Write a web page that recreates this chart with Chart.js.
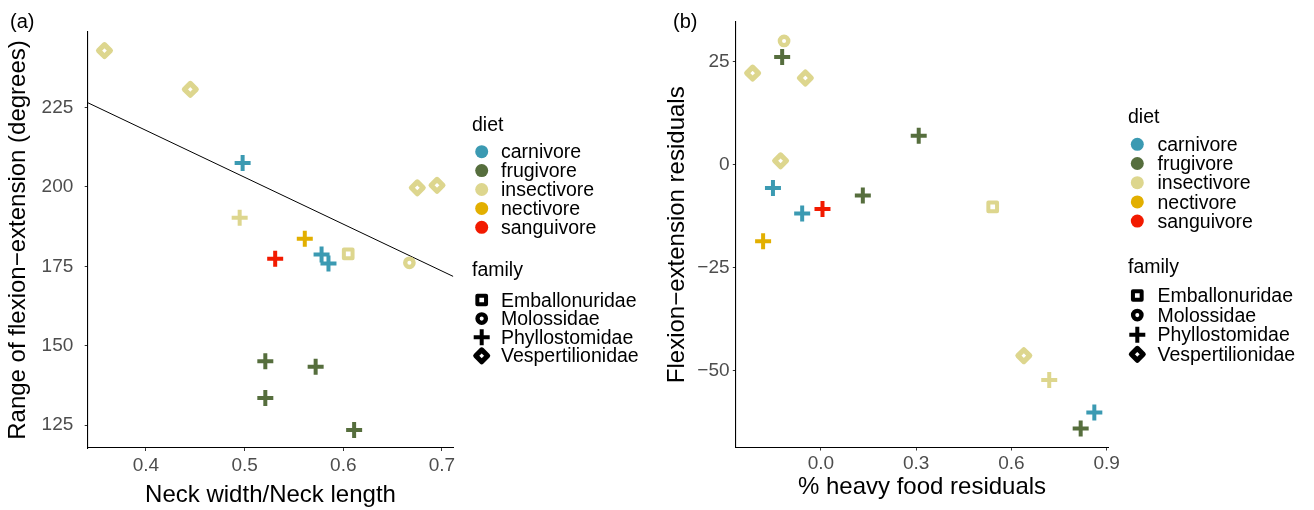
<!DOCTYPE html>
<html>
<head>
<meta charset="utf-8">
<script src="https://cdn.jsdelivr.net/npm/chart.js@4.4.0/dist/chart.umd.min.js"></script>
<style>
body { margin: 0; background: #fff; }
.panel { position: absolute; top: 0; width: 657px; height: 510px; }
</style>
</head>
<body>
<div class="panel" style="left:0"><canvas id="chartA" width="657" height="510"></canvas></div>
<div class="panel" style="left:657px"><canvas id="chartB" width="657" height="510"></canvas></div>
<script>
var dietNames = ['carnivore', 'frugivore', 'insectivore', 'nectivore', 'sanguivore'];
var familyNames = ['Emballonuridae', 'Molossidae', 'Phyllostomidae', 'Vespertilionidae'];

// panel (a)
var neckRatio = [0.358, 0.445, 0.498, 0.675, 0.695, 0.495, 0.561, 0.531, 0.578, 0.585, 0.605, 0.667, 0.521, 0.572, 0.521, 0.611];
var flexRange = [242.9, 230.7, 207.5, 199.7, 200.5, 190.3, 183.7, 177.4, 178.7, 175.9, 178.9, 176.1, 145.1, 143.4, 133.5, 123.5];
var dietA = ['insectivore', 'insectivore', 'carnivore', 'insectivore', 'insectivore', 'insectivore', 'nectivore', 'sanguivore',
             'carnivore', 'carnivore', 'insectivore', 'insectivore', 'frugivore', 'frugivore', 'frugivore', 'frugivore'];
var familyA = ['Vespertilionidae', 'Vespertilionidae', 'Phyllostomidae', 'Vespertilionidae', 'Vespertilionidae', 'Phyllostomidae',
               'Phyllostomidae', 'Phyllostomidae', 'Phyllostomidae', 'Phyllostomidae', 'Emballonuridae', 'Molossidae',
               'Phyllostomidae', 'Phyllostomidae', 'Phyllostomidae', 'Phyllostomidae'];
var fitX = [0.341, 0.7115];
var fitY = [226.5, 171.8];
var ticksAX = [0.4, 0.5, 0.6, 0.7];
var ticksAY = [125, 150, 175, 200, 225];

// panel (b)
var heavyResid = [-0.116, -0.122, -0.215, -0.049, 0.308, -0.127, -0.151, -0.059, 0.005, 0.132, -0.182, 0.541, 0.639, 0.719, 0.861, 0.818];
var flexResid = [30.0, 26.1, 22.2, 21.0, 7.0, 0.9, -5.7, -11.9, -10.8, -7.5, -18.6, -10.3, -46.4, -52.3, -60.2, -64.1];
var dietB = ['insectivore', 'frugivore', 'insectivore', 'insectivore', 'frugivore', 'insectivore', 'carnivore', 'carnivore',
             'sanguivore', 'frugivore', 'nectivore', 'insectivore', 'insectivore', 'insectivore', 'carnivore', 'frugivore'];
var familyB = ['Molossidae', 'Phyllostomidae', 'Vespertilionidae', 'Vespertilionidae', 'Phyllostomidae', 'Vespertilionidae',
               'Phyllostomidae', 'Phyllostomidae', 'Phyllostomidae', 'Phyllostomidae', 'Phyllostomidae', 'Emballonuridae',
               'Vespertilionidae', 'Phyllostomidae', 'Phyllostomidae', 'Phyllostomidae'];
var ticksBX = [0.0, 0.3, 0.6, 0.9];
var ticksBY = [-50, -25, 0, 25];

var dietColors = {carnivore: '#3B9AB2', frugivore: '#566E3D', insectivore: '#DDD68E', nectivore: '#E2AF00', sanguivore: '#F21A00'};
var familyShape = {Emballonuridae: 'rect', Molossidae: 'circle', Phyllostomidae: 'cross', Vespertilionidae: 'rectRot'};
var familyRadius = {Emballonuridae: 6.15, Molossidae: 4.2, Phyllostomidae: 8, Vespertilionidae: 5.95};
var familyStroke = {Emballonuridae: 4, Molossidae: 4.35, Phyllostomidae: 4, Vespertilionidae: 5.1};

var FONT = '"Liberation Sans", Arial, sans-serif';

function minusLabel(v) {
    return (v < 0 ? '\u2212' : '') + Math.abs(v);
}

var decorPlugin = {
    id: 'decor',
    beforeDatasetsDraw: function(chart) {
        // rounded joins like the R point shapes
        chart.ctx.lineJoin = 'round';
    },
    afterDraw: function(chart, args, o) {
        var ctx = chart.ctx;
        ctx.save();
        ctx.fillStyle = '#000';
        ctx.textBaseline = 'middle';
        ctx.font = '20px ' + FONT;
        ctx.fillText(o.tag, o.tagX, o.tagY);

        ctx.textBaseline = 'alphabetic';
        ctx.font = '19.5px ' + FONT;
        ctx.fillText('diet', o.titleX, o.dietTitleY);
        dietNames.forEach(function(name, i) {
            var y = o.dietY + i * o.step;
            ctx.fillStyle = dietColors[name];
            Chart.helpers.drawPoint(ctx, {pointStyle: 'circle', radius: 6.5, borderWidth: 0}, o.keyX, y);
            ctx.fillStyle = '#000';
            ctx.fillText(name, o.textX, y + 6.6);
        });

        ctx.fillText('family', o.titleX, o.famTitleY);
        ctx.lineJoin = 'round';
        familyNames.forEach(function(name, i) {
            var y = o.famY + i * o.famStep;
            ctx.fillStyle = '#fff';
            ctx.strokeStyle = '#000';
            ctx.lineWidth = familyStroke[name];
            Chart.helpers.drawPoint(ctx, {pointStyle: familyShape[name], radius: familyRadius[name],
                                          borderWidth: familyStroke[name]}, o.keyX, y);
            ctx.fillStyle = '#000';
            ctx.fillText(name, o.textX, y + 6.6);
        });
        ctx.restore();
    }
};

function makeScale(min, max, tickList, fmt, title, fitSize, tickPad, titlePad, isX) {
    return {
        type: 'linear',
        min: min,
        max: max,
        afterBuildTicks: function(s) {
            s.ticks = tickList.map(function(v) { return {value: v}; });
        },
        afterFit: function(s) {
            if (isX) s.height = fitSize; else s.width = fitSize;
        },
        ticks: {
            autoSkip: false,
            maxRotation: 0,
            padding: tickPad,
            color: '#4D4D4D',
            font: {family: FONT, size: 19},
            callback: fmt
        },
        grid: {drawOnChartArea: false, drawTicks: true, tickLength: 3, tickColor: '#333', tickWidth: 1},
        border: {display: true, color: '#000', width: 1.1},
        title: {
            display: true,
            text: title,
            color: '#000',
            font: {family: FONT, size: 24, lineHeight: 1.2},
            padding: titlePad
        }
    };
}

function pointSet(xs, ys, diets, fams) {
    return {
        type: 'scatter',
        data: xs.map(function(x, i) { return {x: x, y: ys[i]}; }),
        pointStyle: function(c) { return familyShape[fams[c.dataIndex]]; },
        pointRadius: function(c) { return familyRadius[fams[c.dataIndex]]; },
        pointBorderWidth: function(c) { return familyStroke[fams[c.dataIndex]]; },
        pointBorderColor: function(c) { return dietColors[diets[c.dataIndex]]; },
        pointBackgroundColor: '#fff'
    };
}

function drawChartA() {
    var ctx = document.getElementById('chartA').getContext('2d');
    new Chart(ctx, {
        data: {
            datasets: [pointSet(neckRatio, flexRange, dietA, familyA), {
                type: 'line',
                data: fitX.map(function(x, i) { return {x: x, y: fitY[i]}; }),
                borderColor: '#000',
                borderWidth: 1,
                pointRadius: 0
            }]
        },
        options: {
            responsive: false,
            animation: false,
            events: [],
            layout: {padding: {left: 0, top: 32, right: 203.7, bottom: 0}},
            scales: {
                x: makeScale(0.341, 0.7115, ticksAX, function(v) { return v.toFixed(1); },
                    'Neck width/Neck length', 62, 3, {top: 0, bottom: 0}, true),
                y: makeScale(117.8, 248.75, ticksAY, function(v) { return String(v); },
                    'Range of flexion\u2212extension (degrees)', 87.7, 11.4, {top: 3.6, bottom: 0}, false)
            },
            plugins: {
                legend: {display: false},
                tooltip: {enabled: false},
                decor: {tag: '(a)', tagX: 10, tagY: 22, titleX: 472, dietTitleY: 130.7, dietY: 151.7, step: 18.9,
                        keyX: 481.7, textX: 501, famTitleY: 276, famY: 300, famStep: 18.6}
            }
        },
        plugins: [decorPlugin]
    });
}

function drawChartB() {
    var ctx = document.getElementById('chartB').getContext('2d');
    new Chart(ctx, {
        data: {
            datasets: [pointSet(heavyResid, flexResid, dietB, familyB)]
        },
        options: {
            responsive: false,
            animation: false,
            events: [],
            layout: {padding: {left: 0, top: 22, right: 205.7, bottom: 0}},
            scales: {
                x: makeScale(-0.268, 0.905, ticksBX, function(v) { return v.toFixed(1); },
                    '% heavy food residuals', 62.5, 1.6, {top: 0, bottom: 8}, true),
                y: makeScale(-68.7, 34.6, ticksBY, minusLabel,
                    'Flexion\u2212extension residuals', 78.8, 3.2, {top: 5.6, bottom: 0}, false)
            },
            plugins: {
                legend: {display: false},
                tooltip: {enabled: false},
                decor: {tag: '(b)', tagX: 16, tagY: 22, titleX: 471, dietTitleY: 122.7, dietY: 144.3, step: 19.2,
                        keyX: 480.3, textX: 500.5, famTitleY: 273, famY: 295.5, famStep: 19.6}
            }
        },
        plugins: [decorPlugin]
    });
}

drawChartA();
drawChartB();
</script>
</body>
</html>
